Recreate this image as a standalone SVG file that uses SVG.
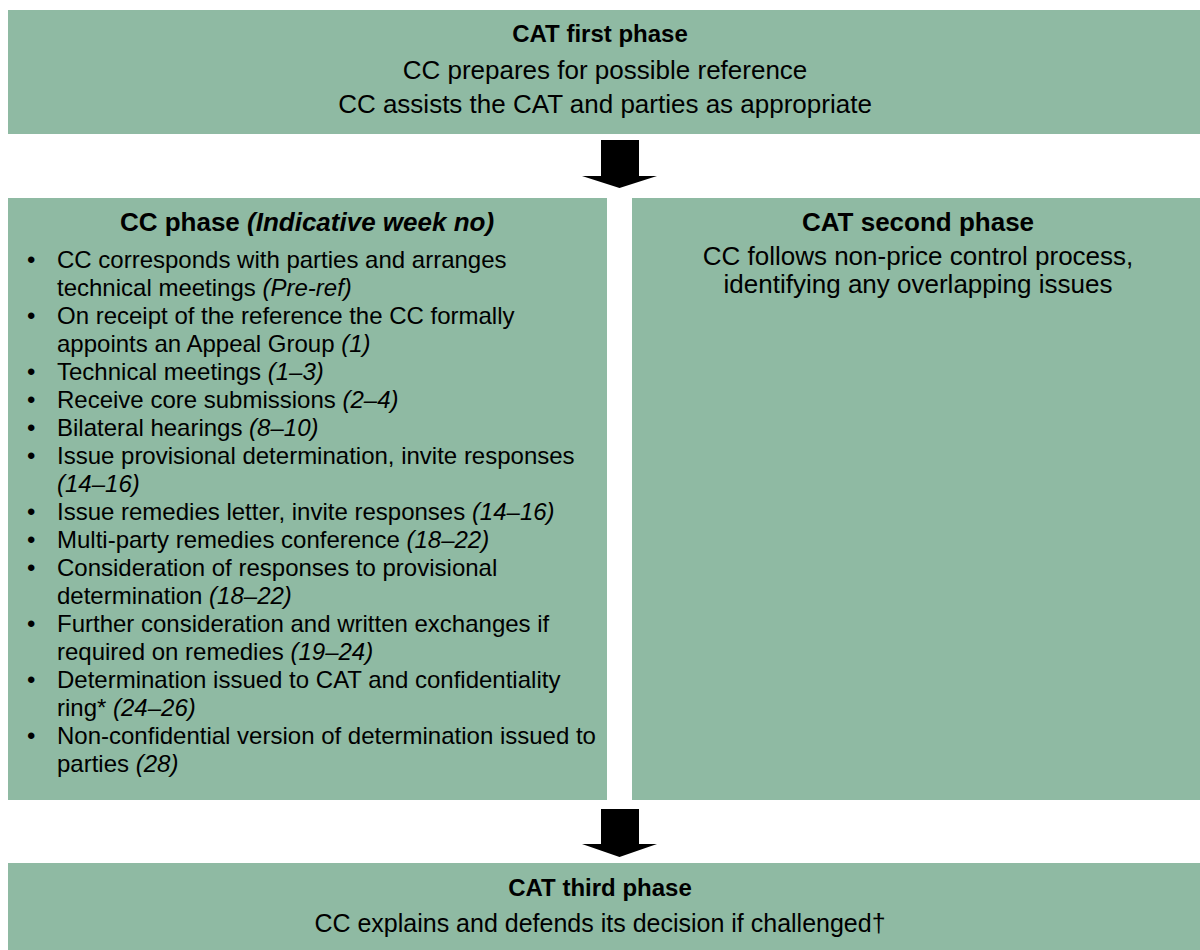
<svg xmlns="http://www.w3.org/2000/svg" width="1200" height="950" viewBox="0 0 1200 950">
<style>
.box{fill:#8FBAA3}
text{font-family:"Liberation Sans",Arial,sans-serif;font-size:24px;fill:#000}
.big{font-size:26px}
.mid{font-size:25px}
.c{text-anchor:middle}
.b{font-weight:bold}
.i{font-style:italic}
.arr{fill:#000}
</style>
<rect width="1200" height="950" fill="#fff"/>
<g id="first">
<rect class="box" x="8" y="10" width="1192" height="124"/>
<text class="c b" x="600" y="42">CAT first phase</text>
<text class="c big" x="605" y="79">CC prepares for possible reference</text>
<text class="c big" x="605" y="113">CC assists the CAT and parties as appropriate</text>
</g>
<g id="ccphase">
<rect class="box" x="8" y="198" width="599" height="602"/>
<text class="c b big" x="307" y="231">CC phase <tspan class="i">(Indicative week no)</tspan></text>
<g>
<text x="27" y="268">•</text><text x="57" y="268">CC corresponds with parties and arranges</text>
<text x="57" y="296">technical meetings <tspan class="i">(Pre-ref)</tspan></text>
<text x="27" y="324">•</text><text x="57" y="324">On receipt of the reference the CC formally</text>
<text x="57" y="352">appoints an Appeal Group <tspan class="i">(1)</tspan></text>
<text x="27" y="380">•</text><text x="57" y="380">Technical meetings <tspan class="i">(1–3)</tspan></text>
<text x="27" y="408">•</text><text x="57" y="408">Receive core submissions <tspan class="i">(2–4)</tspan></text>
<text x="27" y="436">•</text><text x="57" y="436">Bilateral hearings <tspan class="i">(8–10)</tspan></text>
<text x="27" y="464">•</text><text x="57" y="464">Issue provisional determination, invite responses</text>
<text x="57" y="492" class="i">(14–16)</text>
<text x="27" y="520">•</text><text x="57" y="520">Issue remedies letter, invite responses <tspan class="i">(14–16)</tspan></text>
<text x="27" y="548">•</text><text x="57" y="548">Multi-party remedies conference <tspan class="i">(18–22)</tspan></text>
<text x="27" y="576">•</text><text x="57" y="576">Consideration of responses to provisional</text>
<text x="57" y="604">determination <tspan class="i">(18–22)</tspan></text>
<text x="27" y="632">•</text><text x="57" y="632">Further consideration and written exchanges if</text>
<text x="57" y="660">required on remedies <tspan class="i">(19–24)</tspan></text>
<text x="27" y="688">•</text><text x="57" y="688">Determination issued to CAT and confidentiality</text>
<text x="57" y="716">ring* <tspan class="i">(24–26)</tspan></text>
<text x="27" y="744">•</text><text x="57" y="744">Non-confidential version of determination issued to</text>
<text x="57" y="772">parties <tspan class="i">(28)</tspan></text>
</g>
</g>
<g id="second">
<rect class="box" x="632" y="198" width="568" height="602"/>
<text class="c b big" x="918" y="231">CAT second phase</text>
<text class="c big" x="918" y="265">CC follows non-price control process,</text>
<text class="c big" x="918" y="293">identifying any overlapping issues</text>
</g>
<g id="third">
<rect class="box" x="8" y="863" width="1192" height="87"/>
<text class="c b" x="600" y="896">CAT third phase</text>
<text class="c mid" x="600" y="932">CC explains and defends its decision if challenged†</text>
</g>
<g id="connectors">
<polygon class="arr" points="601,140 639,140 639,176 657,176 619.5,188 582,176 601,176"/>
<polygon class="arr" points="601,809 639,809 639,844 657,844 619.5,857 582,844 601,844"/>
</g>
</svg>
